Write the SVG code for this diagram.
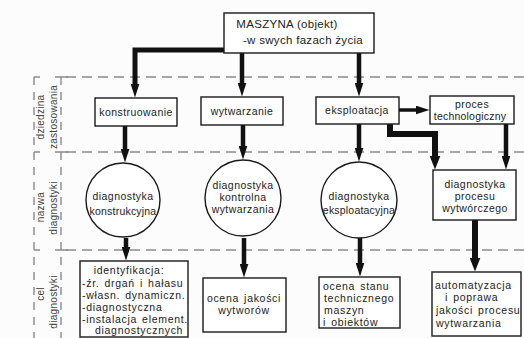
<svg xmlns="http://www.w3.org/2000/svg" width="524" height="338" viewBox="0 0 524 338">
<defs>
<style>
.box{fill:#fff;stroke:#1a1a1a;stroke-width:1.4}
.t{font-family:"Liberation Sans",Arial,sans-serif;font-size:10.5px;fill:#222;text-anchor:middle;letter-spacing:0.45px}
.l{text-anchor:start}
.w{letter-spacing:0.7px;word-spacing:1.5px}
.lab{font-family:"Liberation Sans",Arial,sans-serif;font-size:10px;fill:#444;text-anchor:middle;letter-spacing:0.3px}
.dash{stroke:#8a8a8a;stroke-width:1.4;stroke-dasharray:10 6;fill:none}
.vd{stroke:#8a8a8a;stroke-width:1.4;stroke-dasharray:8 7;fill:none}
.tick{stroke:#8a8a8a;stroke-width:1.4;fill:none}
.a{stroke:#111;stroke-width:4.5;fill:none;marker-end:url(#ah)}
.b{stroke:#111;stroke-width:6;fill:none;marker-end:url(#ah2)}
</style>
<marker id="ah" viewBox="0 0 14 9" refX="0.5" refY="4.5" markerWidth="14" markerHeight="9" markerUnits="userSpaceOnUse" orient="auto"><path d="M0,0 L14,4.5 L0,9 z" fill="#111"/></marker>
<marker id="ah2" viewBox="0 0 14 11" refX="0.5" refY="5.5" markerWidth="14" markerHeight="11" markerUnits="userSpaceOnUse" orient="auto"><path d="M0,0 L14,5.5 L0,11 z" fill="#111"/></marker>
</defs>
<rect width="524" height="338" fill="#fcfcfc"/>
<g id="grid">
<line class="dash" x1="66" y1="77" x2="524" y2="77"/>
<line class="dash" x1="66" y1="152" x2="524" y2="152"/>
<line class="dash" x1="66" y1="250" x2="524" y2="250"/>
<line class="vd" x1="34" y1="77" x2="34" y2="338"/>
<line class="vd" x1="61" y1="77" x2="61" y2="338"/>
<path class="tick" d="M34,77 H40 M34,152 H40 M34,250 H40 M55,77 H68 M55,152 H68 M55,250 H68"/>
<text class="lab" transform="translate(44,117) rotate(-90)">dziedzina</text>
<text class="lab" transform="translate(57,117) rotate(-90)">zastosowania</text>
<text class="lab" transform="translate(44,207) rotate(-90)">nazwa</text>
<text class="lab" transform="translate(57,208) rotate(-90)">diagnostyki</text>
<text class="lab" transform="translate(44,294) rotate(-90)">cel</text>
<text class="lab" transform="translate(57,302) rotate(-90)">diagnostyki</text>
</g>
<g id="connectors">
<path class="a" style="stroke-width:5" d="M226,50 H135 V84"/>
<path class="a" d="M242,53 V83"/>
<path class="a" d="M359,53 V83"/>
<path class="a" d="M125,126 V149"/>
<path class="a" d="M243,125 V146"/>
<path class="a" d="M359,124 V148"/>
<path class="a" style="stroke-width:3.5" d="M399,110 H416"/>
<path class="b" d="M390,124 V134 H435 V156"/>
<path class="a" d="M506,124 V156"/>
<path class="a" d="M126,238 V247"/>
<path class="a" d="M244,238 V264"/>
<path class="a" d="M360,238 V263"/>
<path class="b" d="M475,220 V258"/>
</g>
<g id="maszyna">
<rect class="box" x="224" y="13" width="150" height="40"/>
<text class="t" style="font-size:11.5px;letter-spacing:0.3px" x="287" y="28">MASZYNA (objekt)</text>
<text class="t" style="font-size:11.5px;letter-spacing:0.3px" x="303" y="44">-w swych fazach życia</text>
</g>
<g id="konstruowanie">
<rect class="box" x="95" y="98" width="82" height="28"/>
<text class="t" x="136" y="116">konstruowanie</text>
</g>
<g id="wytwarzanie">
<rect class="box" x="201" y="97" width="82" height="28"/>
<text class="t" x="242" y="115">wytwarzanie</text>
</g>
<g id="eksploatacja">
<rect class="box" x="316" y="97" width="83" height="27"/>
<text class="t" x="357" y="114">eksploatacja</text>
</g>
<g id="proces">
<rect class="box" x="430" y="96" width="84" height="28"/>
<text class="t" x="472" y="108">proces</text>
<text class="t" style="letter-spacing:0.2px" x="470" y="120">technologiczny</text>
</g>
<g id="diag-konstr">
<circle class="box" cx="123" cy="200" r="37"/>
<text class="t" x="123" y="200">diagnostyka</text>
<text class="t" style="letter-spacing:0.2px" x="123" y="215">konstrukcyjna</text>
</g>
<g id="diag-kontr">
<circle class="box" cx="243" cy="198" r="38"/>
<text class="t" x="243" y="189">diagnostyka</text>
<text class="t" x="243" y="201">kontrolna</text>
<text class="t" x="243" y="213">wytwarzania</text>
</g>
<g id="diag-eksp">
<circle class="box" cx="359" cy="200" r="38"/>
<text class="t" x="359" y="200">diagnostyka</text>
<text class="t" style="letter-spacing:0.2px" x="359" y="214">eksploatacyjna</text>
</g>
<g id="diag-proc">
<rect class="box" x="433" y="170" width="83" height="50"/>
<text class="t" x="475" y="188">diagnostyka</text>
<text class="t" x="475" y="200">procesu</text>
<text class="t" x="475" y="212">wytwórczego</text>
</g>
<g id="identyfikacja">
<rect class="box" x="80" y="261" width="108" height="76"/>
<text class="t w" x="129" y="274">identyfikacja:</text>
<text class="t l w" x="82" y="287">-źr. drgań i hałasu</text>
<text class="t l w" x="82" y="299">-własn. dynamiczn.</text>
<text class="t l w" x="82" y="311">-diagnostyczna</text>
<text class="t l w" x="82" y="323">-instalacja element.</text>
<text class="t l w" x="95" y="334">diagnostycznych</text>
</g>
<g id="ocena-jakosci">
<rect class="box" x="203" y="278" width="83" height="54"/>
<text class="t w" x="244" y="302">ocena jakości</text>
<text class="t w" x="244" y="314">wytworów</text>
</g>
<g id="ocena-stanu">
<rect class="box" x="319" y="277" width="81" height="51"/>
<text class="t l w" x="323" y="290">ocena stanu</text>
<text class="t l w" x="324" y="302">technicznego</text>
<text class="t l w" x="324" y="314">maszyn</text>
<text class="t l w" x="323" y="326">i obiektów</text>
</g>
<g id="automatyzacja">
<rect class="box" x="432" y="272" width="89" height="64"/>
<text class="t l w" x="435" y="289">automatyzacja</text>
<text class="t l w" x="445" y="301">i poprawa</text>
<text class="t l w" x="436" y="314">jakości procesu</text>
<text class="t l w" x="436" y="327">wytwarzania</text>
</g>
</svg>
